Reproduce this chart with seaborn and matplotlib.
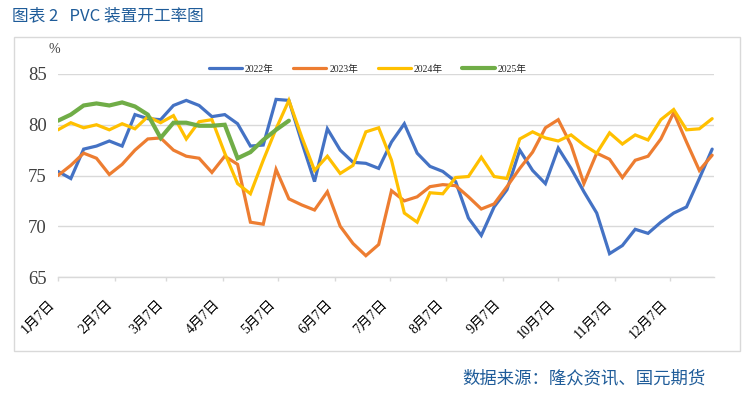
import matplotlib
matplotlib.use("Agg")
import matplotlib.pyplot as plt
from matplotlib import font_manager
import pandas as pd
import seaborn as sns

# weekly PVC operating rate (%), week 0 = Jan 7
rate_2022 = [75.4, 74.7, 77.6, 77.9, 78.4, 77.9, 81.0, 80.6, 80.5, 81.9,
             82.4, 81.9, 80.8, 81.0, 80.1, 77.9, 78.0, 82.5, 82.4, 78.3,
             74.4, 79.6, 77.5, 76.3, 76.2, 75.7, 78.3, 80.1, 77.2, 75.9,
             75.4, 74.4, 70.8, 69.1, 71.9, 73.6, 77.5, 75.5, 74.2, 77.7,
             75.7, 73.4, 71.3, 67.3, 68.1, 69.7, 69.3, 70.4, 71.3, 71.9,
             74.7, 77.6]
rate_2023 = [75.0, 76.0, 77.2, 76.7, 75.1, 76.1, 77.5, 78.6, 78.7, 77.5,
             76.9, 76.7, 75.3, 76.9, 76.1, 70.4, 70.2, 75.6, 72.7, 72.1,
             71.6, 73.4, 70.0, 68.3, 67.1, 68.2, 73.5, 72.5, 72.9, 73.9,
             74.1, 74.0, 72.9, 71.7, 72.2, 73.9, 75.7, 77.3, 79.7, 80.5,
             78.0, 74.2, 77.2, 76.6, 74.8, 76.5, 76.9, 78.6, 81.2, 78.3,
             75.5, 77.0]
rate_2024 = [79.5, 80.2, 79.7, 80.0, 79.5, 80.1, 79.6, 80.8, 80.2, 80.9,
             78.6, 80.3, 80.5, 77.2, 74.2, 73.2, 76.5, 79.6, 82.4, 78.8,
             75.5, 76.9, 75.2, 76.0, 79.3, 79.7, 76.5, 71.3, 70.4, 73.3,
             73.2, 74.8, 74.9, 76.8, 74.9, 74.7, 78.6, 79.3, 78.7, 78.4,
             79.0, 78.0, 77.2, 79.2, 78.1, 79.0, 78.5, 80.5, 81.5, 79.5,
             79.6, 80.6]
rate_2025 = [80.4, 81.0, 81.9, 82.1, 81.9, 82.2, 81.8, 81.0, 78.7, 80.2,
             80.2, 79.9, 79.9, 80.0, 76.7, 77.3, 78.5, 79.5, 80.4]

years = ["2022年", "2023年", "2024年", "2025年"]
colors = ["#4472C4", "#ED7D31", "#FFC000", "#70AD47"]
widths = [2.3, 2.3, 2.3, 3.0]

month_labels = [f"{m}月7日" for m in range(1, 13)]
month_ticks = pd.to_datetime([f"2023-{m:02d}-07" for m in range(1, 13)])
weeks = pd.date_range("2023-01-07", periods=52, freq="7D")

sns.set_theme(style="white")
plt.rcParams["font.family"] = ["Liberation Serif", "Noto Sans CJK SC"]
serif_fp = font_manager.FontProperties(family="Liberation Serif")

fig = plt.figure(figsize=(7.56, 3.99), dpi=100)
ax = fig.add_axes([58 / 756, 1 - 277 / 399, (714 - 58) / 756, (277 - 74) / 399])

for year, vals, col, lw in zip(years, [rate_2022, rate_2023, rate_2024, rate_2025], colors, widths):
    df = pd.DataFrame({"date": weeks[:len(vals)], "rate": vals})
    sns.lineplot(data=df, x="date", y="rate", ax=ax, color=col, linewidth=lw,
                 label=year, solid_joinstyle="miter")

ax.set_xlim(pd.Timestamp("2023-01-07"), pd.Timestamp("2023-12-31"))
ax.set_ylim(65, 85)
ax.set_yticks([65, 70, 75, 80, 85])
ax.set_yticklabels(["65", "70", "75", "80", "85"], fontproperties=serif_fp,
                   fontsize=13.5, color="#404040")
ax.yaxis.grid(True, color="#D9D9D9", linewidth=1)
ax.xaxis.grid(False)
ax.set_xlabel("")
ax.set_ylabel("")

for s in ["top", "right", "left"]:
    ax.spines[s].set_visible(False)
ax.spines["bottom"].set_color("#D9D9D9")
ax.spines["bottom"].set_linewidth(1)

ax.set_xticks(month_ticks)
ax.set_xticklabels(month_labels, rotation=45, ha="right", va="top", fontsize=10,
                   family=["Liberation Serif", "Noto Sans CJK SC"])
ax.tick_params(axis="x", length=3, width=1, bottom=True, pad=12, labelcolor="#000000")
ax.tick_params(axis="x", color="#D9D9D9")
ax.tick_params(axis="y", length=0, pad=8)

ax.text(-0.005, 1.12, "%", transform=ax.transAxes, fontsize=10, color="#404040",
        ha="center", va="center", fontproperties=serif_fp)

ax.legend(loc="center", bbox_to_anchor=(368 / 756, 1 - 69 / 399),
          bbox_transform=fig.transFigure, ncol=4, frameon=False,
          handlelength=3.4, handletextpad=0.3, columnspacing=2.0,
          prop={"family": ["Liberation Serif", "Noto Sans CJK SC"], "size": 7})

fig.add_artist(plt.Rectangle((14 / 756, 1 - 351 / 399), (740 - 14) / 756, (351 - 37) / 399,
                             transform=fig.transFigure, fill=False,
                             edgecolor="#D9D9D9", linewidth=1))

fig.text(12 / 756, 1 - 16 / 399, "图表 2   PVC 装置开工率图", fontsize=12,
         color="#1F5C99", ha="left", va="center",
         family=["Noto Sans CJK SC", "DejaVu Sans"])
fig.text(706 / 756, 1 - 378 / 399, "数据来源：隆众资讯、国元期货", fontsize=12.5,
         color="#1F5C99", ha="right", va="center",
         family=["Noto Sans CJK SC", "DejaVu Sans"])

fig.savefig("out.png", dpi=100)
